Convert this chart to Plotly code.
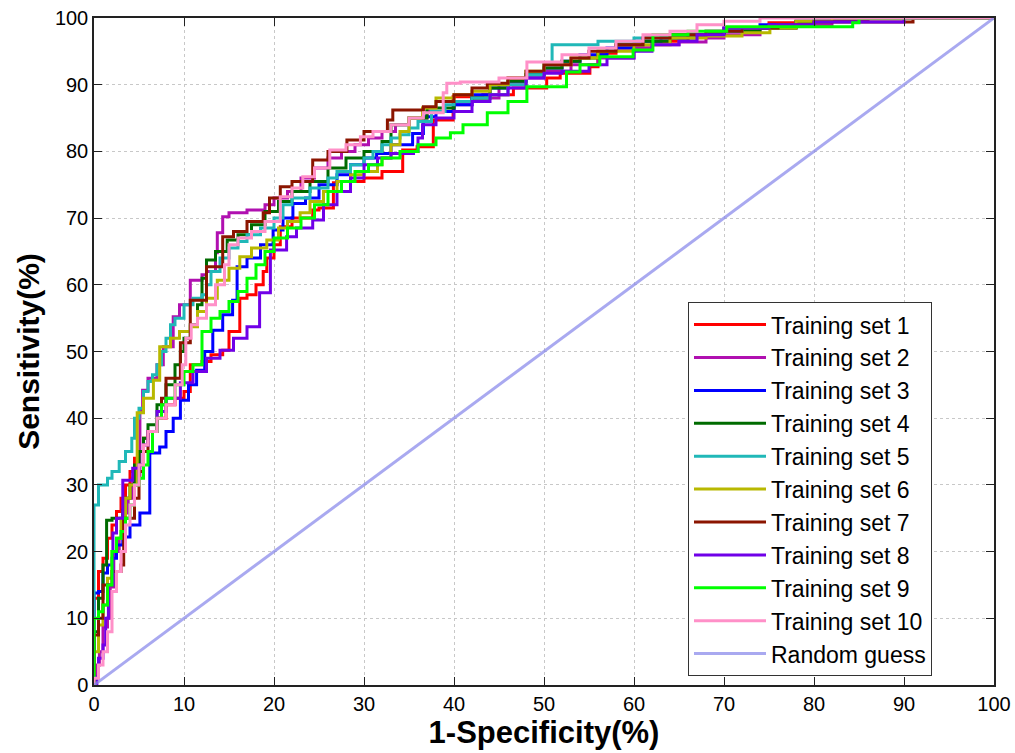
import plotly.graph_objects as go

# ---- data: (1-specificity %, sensitivity %) step points per training set ----
set1 = [(0,0),(0,13),(0.5,17),(1,19),(1.5,22),(2,24),(2.5,26),(3,28),(3.5,30),(4,32),(4.5,34),(5,35),(5.5,37),
        (6,38),(7,40),(8,42),(9,43),(10,44),(10.7,48),(12,48.5),(13,49.5),(14.3,50.2),(15,53),(16.2,58),(17,58.5),
        (18,60),(18.8,62),(19.2,64),(20,66),(20.7,68.7),(22,70),(24.3,71.2),(25,71.5),(26.6,75.3),(27,75.5),(30,76),
        (32,77),(34.3,80.2),(35.9,80.7),(37.7,84.7),(39.9,88.2),(43.2,88.5),(46.6,89.5),(50.3,91),(51.8,91.7),
        (55.1,92.7),(56,94.7),(58,95.5),(62,96.5),(66,97.5),(70,98.5),(75,99.3),(80,100),(100,100)]
set2 = [(0,0),(0.3,3),(0.6,5),(1,8.7),(1.5,10),(1.8,14.7),(2.2,20),(2.8,22),(3.2,25.8),(3.8,28),(4.3,31),
        (5.1,35.7),(5.1,41.2),(5.4,44.2),(6,46),(7,48),(7.7,50.7),(8.8,55.2),(9.5,57),(10.7,60.7),(12,61.5),
        (12.5,62),(13.5,64.8),(13.7,67.8),(14.3,70.2),(15,70.8),(17,71.2),(19,72),(20,73),(21.5,74),(23,76),
        (24.5,77.5),(26,79),(27.5,80),(29,81),(30.5,82),(32,83),(33.5,84),(35,85),(37,86),(40,87),(42,88),
        (45,90),(48,91),(50,92),(53,93),(56,94),(60,95.5),(62,96),(65,96.4),(68,97),(70,97.5),(74,98.5),
        (78,99),(82,99.5),(86,100),(100,100)]
set3 = [(0,0),(0,13.8),(0.5,14),(1,16.8),(1.5,18),(2,19),(2.5,21),(3.2,22.2),(4,24),(5.1,25.8),(6.2,29.2),
        (6.2,34.8),(7.3,35.7),(8,38),(8.8,40),(9.6,42.7),(10.5,45),(11.4,47.2),(12.3,50),(13.2,53.2),(14.3,55.5),
        (15.4,57.7),(15.9,62.7),(17,64),(18.5,66),(19.9,68.2),(21,70),(22.1,72.2),(23.5,73),(25,75),(27,76.5),
        (28.5,78),(30,79),(31.4,79.7),(33,81),(35.4,82.7),(36.6,85.2),(38,86),(40,87),(42,88.5),(44,89.5),
        (46,90.5),(48,91.5),(50,92.5),(52,93.5),(54,94.5),(57,95.5),(60,96.5),(63,97),(66,97.5),(70,98.5),
        (74,99),(78,99.5),(82,100),(100,100)]
set4 = [(0,0),(0,8),(0.5,13),(1,18),(1.4,24.7),(2,25),(3.2,26.2),(3.5,28),(4,30),(4.5,33),(5,35),(5.5,37),
        (6,39),(7,42),(8,45),(9,48),(9.6,50),(10,52),(10.7,54),(11.5,57),(12,61),(12.5,63.7),(13.5,65),
        (14.8,66.7),(16,67.5),(17.5,69),(19,71),(20.5,72.5),(22,74),(24,75.5),(26,77.5),(28,79),(30,80),
        (32,81.5),(33,84),(35,85),(37,86.5),(40,87.5),(42,88),(44,89.5),(46,90.5),(48,91.5),(50,92.5),
        (52,93.5),(54,94),(56,95),(58,96),(61,96.5),(64,97),(67,97.5),(70,98),(74,98.5),(78,99.5),(82,100),(100,100)]
set5 = [(0,0),(0,27),(0.5,30),(1.5,31),(2,32),(2.8,33.5),(3.5,35),(4.2,37),(4.5,40),(5,41.5),(5.5,44),
        (6,45.5),(6.5,46.5),(7,48),(7.5,50),(8,52),(8.5,54),(9,55),(10,57),(11,58),(12,58.5),(12.5,60),
        (13,62),(14,64),(15,65.5),(16,66.5),(17,67.5),(18.5,68.5),(20,70),(21,72),(22,73),(24,74.5),(26,76),
        (27,77),(28.5,78),(30,79),(31,80),(32,81),(33,82),(34,82.5),(35,83.5),(36,84.5),(37.5,86),(39,87),
        (40,87.5),(42,88),(44,88.5),(46,90),(48,91.5),(50,93),(50.9,96),(53,96),(56,96.5),(60,97),(64,97.5),
        (68,98),(72,98.5),(76,99),(80,100),(100,100)]
set6 = [(0,0),(0,5),(0.5,9),(1,12),(1.5,16),(2,20),(2.5,22),(3,25),(3.5,28),(4,30),(4.8,33.7),(4.8,40.8),
        (5.5,43),(6.6,45.7),(7.3,50.7),(8.5,52),(9.5,53),(10.7,53.7),(11.5,56),(12.5,58),(13.7,60.7),(15,62.5),
        (16.2,64.2),(17.5,65.5),(19.2,66.7),(20.5,68.5),(21.5,69.5),(22.9,70.8),(24,72.5),(25.5,74),(27,75.5),
        (28.5,76.5),(30,77),(31.5,78),(32,79),(33,81),(34,83),(35,85),(36.5,86.5),(38,88),(40,88.5),(42,89),
        (44,90),(46,91),(48,92),(50,93),(53,94),(56,95),(60,96),(64,97),(68,97.3),(72,97.8),(75.1,98.5),
        (78,99.5),(82,100),(100,100)]
set7 = [(0,0),(0,7.5),(0.5,10),(1,15),(2,15),(2,17),(3,18),(3.3,25),(4.5,25),(4.5,28),(5,32),(5.5,35),
        (6,38),(7,40),(7.5,43),(8,46),(9.6,47.7),(9.6,51.3),(10.7,57.7),(11.8,57.7),(12.5,62.7),(14.3,64.2),
        (14.3,67.2),(15.5,68),(17,69.5),(18.8,70.8),(19.5,73),(20.7,74.7),(22,75.5),(24.3,78.7),(26,80),
        (28.1,81.7),(30,83),(32.6,84.7),(33.2,86.2),(36.6,86.7),(38,87.5),(40,88.5),(42,89.5),(43.7,90.2),
        (46,91),(48,92),(50,93),(53,94),(55,95),(58,96),(61,97),(64,97.5),(68,98),(72,98.5),(76,99),
        (80,99.4),(91,100),(100,100)]
set8 = [(0,0),(0.3,1.2),(0.5,4),(1,6),(1.3,10),(1.6,15),(2.1,22.8),(2.5,25),(3.2,30.7),(4.3,32.5),(5,33),
        (5.5,36),(6,38),(7,41),(8,43),(9.6,45.3),(11,47),(12.5,49),(14,50.2),(15.5,52),(17,53.7),(18.4,58.8),
        (19.6,65.2),(21.4,67.2),(22.5,68.5),(24.3,69.7),(25.5,72),(27,74),(28.5,76),(30,78),(31.5,79),
        (33,79.7),(35.5,80),(36,82),(36.5,84),(38,85),(40,86),(42,87.5),(44,88.5),(46,89.5),(48,91),
        (50,91.7),(52,92),(55,93),(57,94),(60,95),(62,96),(65,96.5),(67,97.5),(70,98.5),(75,99),(80,99.4),
        (90,100),(100,100)]
set9 = [(0,0),(0,10),(0.5,11),(1,12),(1.5,15),(2,20),(2.5,22),(3,23),(3.5,25),(4,27),(4.5,30),(5,31),
        (5.5,33),(6,35),(6.5,38),(7,40),(7.5,42),(8,43),(9,45),(10,47),(11,48),(12,49),(12,53),(13,55),
        (14,56),(15,57.5),(16,59),(17,61),(18,63),(19,65),(20,67),(21.5,68.5),(23,70),(24.5,72),(26,74),
        (27.5,75.5),(29,77),(30.5,78),(32,79),(34,80),(36,81),(38,82),(39.6,82.8),(41,84),(43.7,85.8),
        (46,87.5),(48.1,89.7),(51.4,89.7),(52.5,91.9),(54,93),(56.2,94.2),(59.9,95.2),(62.1,95.2),
        (62.1,97.5),(66,98),(70.3,98.7),(84.3,99.3),(85,100),(100,100)]
set10 = [(0,0),(0,1),(0.5,3),(1,5),(1.5,8),(2,14),(2.5,17),(3,20),(3.5,24),(4,27),(4.5,30),(5,33),(5.5,36),
         (6,38),(7,40),(8,42),(9,45),(9.8,48),(10.2,52),(10.8,54),(11.5,55),(12.5,57),(13.5,60),(14.5,63),
         (15,66),(16,67),(17.5,68),(19,69.5),(20.7,73.2),(22,74.5),(23.2,76.2),(24.5,77.5),(26.2,80.2),
         (28,81),(29.6,82.2),(31,83),(33,84),(35,85),(36.6,85.8),(38.8,88.8),(39.2,90.2),(40.7,90.4),
         (45,91),(48.1,93.4),(52,94.5),(55,95.5),(58,96.5),(61,97.5),(64,98),(67,99),(70,99.5),(74,100),(100,100)]
random_guess = [(0,0),(100,100)]

series_names = ["Training set %d" % i for i in range(1, 11)]
series_data = [set1, set2, set3, set4, set5, set6, set7, set8, set9, set10]
series_colors = ["#ff0000", "#b010b0", "#0000ff", "#006b00", "#20b8b8",
                 "#b8b800", "#8b1500", "#7000e8", "#00ff00", "#ff90c8"]
tick_vals = [0, 10, 20, 30, 40, 50, 60, 70, 80, 90, 100]

fig = go.Figure()
for i, (name, pts, col) in enumerate(zip(series_names, series_data, series_colors)):
    fig.add_trace(go.Scatter(
        x=[p[0] for p in pts], y=[p[1] for p in pts], mode="lines", name=name,
        line=dict(color=col, width=3, shape="hv"), legendgroup="g%d" % i))
fig.add_trace(go.Scatter(
    x=[p[0] for p in random_guess], y=[p[1] for p in random_guess], mode="lines",
    name="Random guess", line=dict(color="rgba(140,140,235,0.75)", width=3),
    legendgroup="g10"))

axis_common = dict(
    range=[0, 100], tickvals=tick_vals, showgrid=True, gridcolor="#c8c8c8",
    griddash="dot", gridwidth=1, zeroline=False, showline=True, linecolor="#222222",
    linewidth=1.5, mirror="ticks", ticks="inside", ticklen=8, tickcolor="#222222",
    tickwidth=1, automargin=False)

fig.update_xaxes(**axis_common,
                 tickfont=dict(family="Liberation Sans, Arial", size=20, color="black"),
                 title=dict(text="<b>1-Specificity(%)</b>", standoff=2,
                            font=dict(family="Liberation Sans, Arial", size=31, color="black")))
fig.update_yaxes(**axis_common,
                 tickfont=dict(family="Liberation Sans, Arial", size=20, color="black"),
                 title=dict(text="<b>Sensitivity(%)</b>", standoff=6,
                            font=dict(family="Liberation Sans, Arial", size=30, color="black")))

fig.update_layout(
    width=1015, height=753,
    margin=dict(l=94, r=21, t=18, b=68),
    paper_bgcolor="white", plot_bgcolor="white",
    legend=dict(x=0.66, y=0.574, xanchor="left", yanchor="top",
                bgcolor="white", bordercolor="#333333", borderwidth=1,
                font=dict(family="Liberation Sans, Arial", size=23, color="black"),
                traceorder="grouped", tracegroupgap=0, itemwidth=72),
)

fig.write_html("out.html")
